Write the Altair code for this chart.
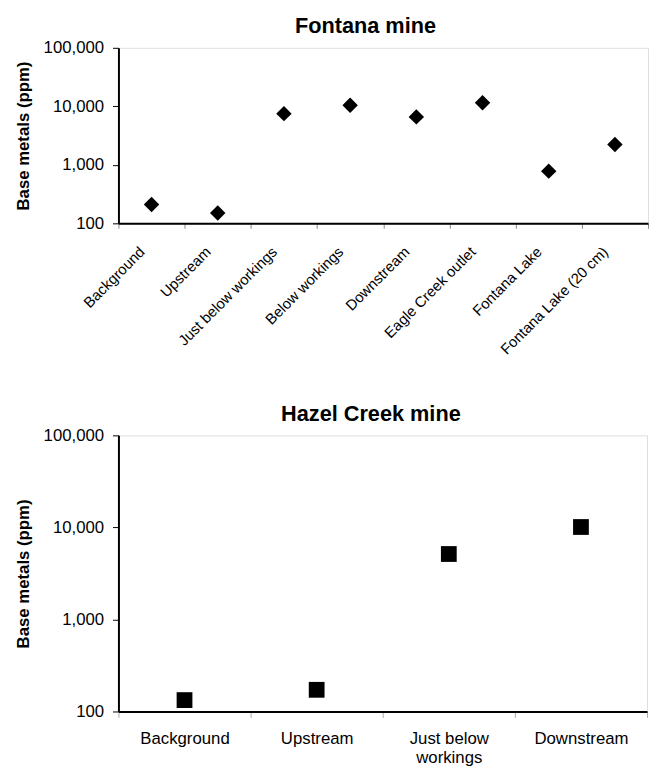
import altair as alt
import pandas as pd

# ---- data ----
fontana_sites = ["Background", "Upstream", "Just below workings", "Below workings",
                 "Downstream", "Eagle Creek outlet", "Fontana Lake", "Fontana Lake (20 cm)"]
fontana_ppm = [210, 150, 7500, 10400, 6600, 11500, 780, 2230]

hazel_sites = ["Background", "Upstream", "Just below workings", "Downstream"]
hazel_ppm = [133, 172, 5140, 10100]

y_ticks = [100, 1000, 10000, 100000]

FONT = "Liberation Sans"

df_f = pd.DataFrame({"site": fontana_sites, "ppm": fontana_ppm})
df_h = pd.DataFrame({"site": hazel_sites, "ppm": hazel_ppm})


def y_enc():
    return alt.Y(
        "ppm:Q",
        scale=alt.Scale(type="log", domain=[100, 100000], nice=False),
        axis=alt.Axis(
            values=y_ticks, format=",", title="Base metals (ppm)",
            titleFont=FONT, titleFontSize=17, titleFontWeight="bold", titleColor="black",
            titlePadding=11, labelFont=FONT, labelFontSize=17, labelColor="black",
            labelPadding=9, tickSize=6, tickColor="black", tickWidth=1,
            domainColor="black", domainWidth=2, grid=False,
        ),
    )


def title(text, dx):
    return alt.TitleParams(text, font=FONT, fontSize=22, fontWeight="bold", color="black",
                           anchor="middle", dx=dx, offset=1)


top = alt.Chart(df_f, title=title("Fontana mine", -18)).mark_point(
    shape="diamond", filled=True, color="black", opacity=1, size=245, strokeWidth=0
).encode(
    x=alt.X(
        "site:N", sort=fontana_sites,
        scale=alt.Scale(type="band", paddingInner=0, paddingOuter=0),
        axis=alt.Axis(
            title=None, labelAngle=-45, labelAlign="right", labelBaseline="top",
            labelFont=FONT, labelFontSize=15, labelColor="black", labelOffset=-15,
            labelPadding=16, tickBand="extent", tickSize=5, tickColor="#888888",
            domainColor="black", domainWidth=2, labelLimit=300,
        ),
    ),
    y=y_enc(),
).properties(width=537, height=178)

bottom = alt.Chart(df_h, title=title("Hazel Creek mine", -12)).mark_point(
    shape="square", filled=True, color="black", opacity=1, size=256, strokeWidth=0
).encode(
    x=alt.X(
        "site:N", sort=hazel_sites,
        scale=alt.Scale(type="band", paddingInner=0, paddingOuter=0),
        axis=alt.Axis(
            title=None, labelAngle=0, labelAlign="center", labelBaseline="top",
            labelFont=FONT, labelFontSize=17, labelColor="black", labelPadding=13,
            labelExpr="datum.label == 'Just below workings' ? ['Just below', 'workings'] : datum.label",
            labelLineHeight=20, tickBand="extent", tickSize=6, tickColor="#aaaaaa",
            domainColor="black", domainWidth=2,
        ),
    ),
    y=y_enc(),
).properties(width=536, height=280)

chart = alt.vconcat(top, bottom, spacing=45).properties(
    padding={"left": 6, "top": 1, "right": 0, "bottom": 0}
).configure_view(stroke="black", strokeWidth=1.5).configure(background="white")

chart.save("out.html", embed_options={"renderer": "svg", "actions": False})
